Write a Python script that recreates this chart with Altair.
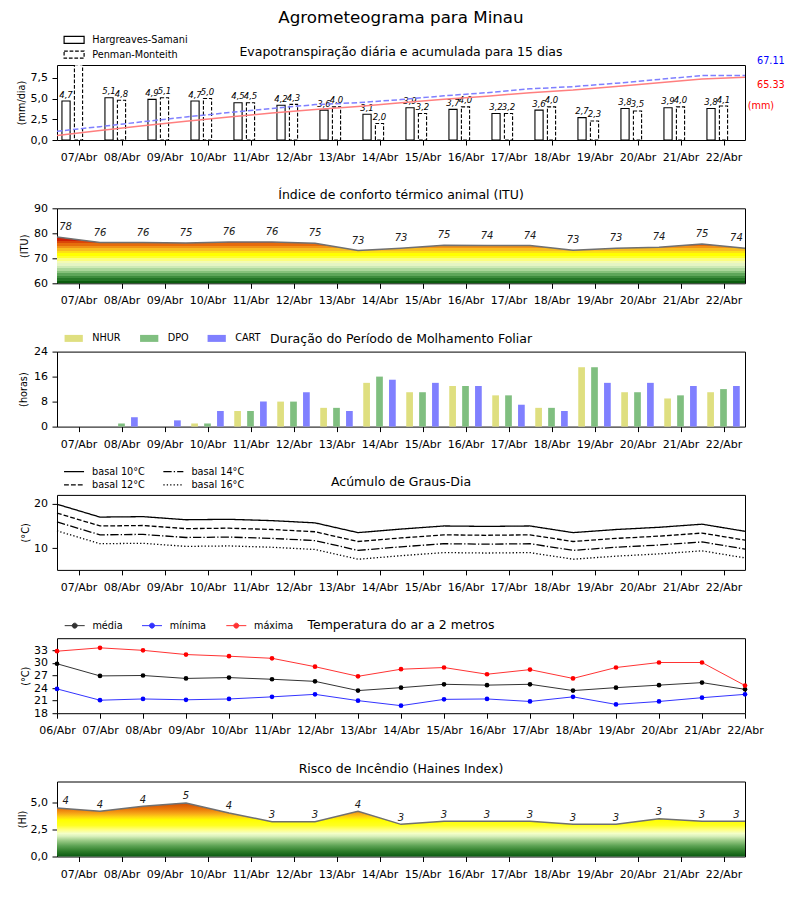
import json
import altair as alt
import pandas as pd

# ---------------- data ----------------
DAYS = ['07/Abr', '08/Abr', '09/Abr', '10/Abr', '11/Abr', '12/Abr', '13/Abr', '14/Abr',
        '15/Abr', '16/Abr', '17/Abr', '18/Abr', '19/Abr', '20/Abr', '21/Abr', '22/Abr']
DAYS_T = ['06/Abr', '07/Abr', '08/Abr', '09/Abr', '10/Abr', '11/Abr', '12/Abr', '13/Abr', '14/Abr',
          '15/Abr', '16/Abr', '17/Abr', '18/Abr', '19/Abr', '20/Abr', '21/Abr', '22/Abr']

TITLE = 'Agrometeograma para Minau'
PANEL_TITLES = ['Evapotranspiração diária e acumulada para 15 dias',
                'Índice de conforto térmico animal (ITU)',
                'Duração do Período de Molhamento Foliar',
                'Acúmulo de Graus-Dia',
                'Temperatura do ar a 2 metros',
                'Risco de Incêndio (Haines Index)']

ET_NAMES = ['Hargreaves-Samani', 'Penman-Monteith']
ET_HS = [4.7, 5.1, 4.9, 4.7, 4.5, 4.2, 3.6, 3.1, 3.9, 3.7, 3.2, 3.6, 2.7, 3.8, 3.9, 3.8]
ET_PM = [9.1, 4.8, 5.1, 5.0, 4.5, 4.3, 4.0, 2.0, 3.2, 4.0, 3.2, 4.0, 2.3, 3.5, 4.0, 4.1]
ET_CUM_HS = [4.7, 9.8, 14.7, 19.4, 23.9, 28.1, 31.7, 34.8, 38.7, 42.4, 45.6, 49.2, 51.9, 55.7, 59.6, 63.4, 65.33]
ET_CUM_PM = [9.1, 13.9, 19.0, 24.0, 28.5, 32.8, 36.8, 38.8, 42.0, 46.0, 49.2, 53.2, 55.5, 59.0, 63.0, 67.1, 67.11]
ET_TOTAL_HS = '65.33'
ET_TOTAL_PM = '67.11'

ITU = [78.5, 76.3, 76.3, 76.1, 76.5, 76.5, 76.0, 73.1, 74.0, 75.2, 75.1, 75.1, 73.2, 74.0, 74.4, 75.7, 74.0]
ITU_LABELS = [78, 76, 76, 75, 76, 76, 75, 73, 73, 75, 74, 74, 73, 73, 74, 75, 74]

WET_NAMES = ['NHUR', 'DPO', 'CART']
NHUR = [0, 0, 0, 1, 5, 8, 6, 14, 11, 13, 10, 6, 19, 11, 9, 11]
DPO = [0, 1, 0, 1, 5, 8, 6, 16, 11, 13, 10, 6, 19, 11, 10, 12]
CART = [0, 3, 2, 5, 8, 11, 5, 15, 14, 13, 7, 5, 14, 14, 13, 13]

GD_NAMES = ['basal 10°C', 'basal 14°C', 'basal 12°C', 'basal 16°C']
GD10 = [19.9, 17.0, 17.1, 16.4, 16.5, 16.2, 15.7, 13.5, 14.3, 15.0, 14.9, 15.0, 13.5, 14.2, 14.7, 15.4, 13.8]
GD12 = [17.9, 15.0, 15.1, 14.4, 14.5, 14.2, 13.7, 11.5, 12.3, 13.0, 12.9, 13.0, 11.5, 12.2, 12.7, 13.4, 11.8]
GD14 = [15.9, 13.0, 13.1, 12.4, 12.5, 12.2, 11.7, 9.5, 10.3, 11.0, 10.9, 11.0, 9.5, 10.2, 10.7, 11.4, 9.8]
GD16 = [13.9, 11.0, 11.1, 10.4, 10.5, 10.2, 9.7, 7.5, 8.3, 9.0, 8.9, 9.0, 7.5, 8.2, 8.7, 9.4, 7.8]

T_NAMES = ['média', 'mínima', 'máxima']
T_MED = [29.8, 26.9, 27.0, 26.3, 26.5, 26.1, 25.6, 23.4, 24.1, 24.9, 24.7, 24.9, 23.4, 24.1, 24.7, 25.3, 23.7]
T_MIN = [23.8, 21.1, 21.4, 21.2, 21.4, 21.9, 22.5, 21.0, 19.8, 21.3, 21.4, 20.8, 21.9, 20.1, 20.8, 21.7, 22.5]
T_MAX = [32.8, 33.6, 33.0, 32.0, 31.6, 31.1, 29.1, 26.8, 28.5, 28.9, 27.3, 28.4, 26.3, 28.9, 30.1, 30.1, 24.6]

HAINES = [4.53, 4.22, 4.69, 5.0, 4.06, 3.25, 3.25, 4.22, 3.0, 3.28, 3.28, 3.28, 3.0, 3.0, 3.53, 3.28, 3.28]
HAINES_LABELS = [4, 4, 4, 5, 4, 3, 3, 4, 3, 3, 3, 3, 3, 3, 3, 3, 3]

# ---------------- styles ----------------
FONT = 'DejaVu Sans'
W, H = 688, 75
XS = alt.Scale(domain=[0, 16], nice=False, zero=False)
COMMA = "replace(format(datum.value, '.1f'), '.', ',')"
X_AXIS_DAYS = alt.Axis(values=[i + 0.5 for i in range(len(DAYS))],
                       labelExpr=json.dumps(DAYS) + '[floor(datum.value)]', title=None)
X_AXIS_T = alt.Axis(values=list(range(len(DAYS_T))),
                    labelExpr=json.dumps(DAYS_T) + '[round(datum.value)]', title=None)

ITU_BANDS = [(60, '#0b5c0d'), (61, '#247526'), (62, '#3d8c3c'), (63, '#5ea659'), (64, '#86c17a'),
             (65, '#acd79b'), (66, '#cdeab5'), (67, '#e5f5c3'), (68, '#f3fbb4'), (69, '#fbfd7c'),
             (70, '#ffff2a'), (71, '#ffff00'), (72, '#fde015'), (73, '#f8bd20'), (74, '#f09318'),
             (75, '#e66c0c'), (76, '#da4608'), (77, '#cc1f05'), (78, '#c20000')]
HAINES_CMAP = [(0.0, '#0b5a12'), (0.5, '#2e7d2a'), (1.0, '#5da354'), (1.5, '#9dcc88'),
               (1.9, '#daf2bd'), (2.15, '#f3ffc8'), (2.5, '#ffff80'), (2.9, '#ffff22'),
               (3.4, '#ffff00'), (3.7, '#ffd412'), (4.0, '#f7a818'), (4.4, '#ea7a0a'), (5.0, '#d04a05'),
               (7.0, '#b00000')]

RECT20 = 'M-1.818,-0.636H1.818V0.636H-1.818Z'
RECT18 = 'M-1.66,-0.636H1.66V0.636H-1.66Z'
LINE20 = 'M-1.818,0H1.818'
LINEDOT = 'M-1.818,0H1.818M-0.45,0A0.45,0.45,0,1,1,0.45,0A0.45,0.45,0,1,1,-0.45,0Z'


def hex2rgb(h):
    return [int(h[i:i + 2], 16) for i in (1, 3, 5)]


def rgb2hex(c):
    return '#%02x%02x%02x' % tuple(int(round(v)) for v in c)


def band_gradient(bands, lo, hi):
    edges = [b[0] for b in bands[1:]] + [1e9]
    stops = []
    for (e0, col), e1 in zip(bands, edges):
        a, b = max(e0, lo), min(e1, hi)
        if b <= a:
            continue
        stops.append(alt.GradientStop(color=col, offset=(a - lo) / (hi - lo)))
        stops.append(alt.GradientStop(color=col, offset=(b - lo) / (hi - lo)))
    return alt.Gradient(gradient='linear', stops=stops, x1=1, x2=1, y1=1, y2=0)


def smooth_gradient(cmap, lo, hi):
    pts = [(v, c) for v, c in cmap if lo <= v <= hi]
    for (v0, c0), (v1, c1) in zip(cmap, cmap[1:]):
        if v0 < hi < v1:
            t = (hi - v0) / (v1 - v0)
            a, b = hex2rgb(c0), hex2rgb(c1)
            pts.append((hi, rgb2hex([a[k] + (b[k] - a[k]) * t for k in range(3)])))
            break
    stops = [alt.GradientStop(color=c, offset=(v - lo) / (hi - lo)) for v, c in pts]
    return alt.Gradient(gradient='linear', stops=stops, x1=1, x2=1, y1=1, y2=0)


def y_axis(title, values, title_x, comma=False):
    kw = dict(title=title, values=values, titleX=title_x, titleY=H / 2, titleAngle=270,
              titleAlign='center', titleBaseline='middle')
    if comma:
        kw['labelExpr'] = COMMA
    return alt.Axis(**kw)


def txt(text, x, y, size=12.5, color='black', align='center'):
    return alt.Chart(pd.DataFrame({'t': [text]})).mark_text(
        font=FONT, fontSize=size, color=color, align=align, baseline='middle'
    ).encode(text='t:N', x=alt.value(x), y=alt.value(y))


def legend(**kw):
    base = dict(title=None, orient='none', labelFont=FONT, labelFontSize=9.7, labelColor='black',
                padding=0, symbolSize=121)
    base.update(kw)
    return alt.Legend(**base)


# ---------------- panel 1: evapotranspiration ----------------
ET_YMAX = 9.05
YS_ET = alt.Scale(domain=[0, ET_YMAX], nice=False, zero=False)
YS_CUM = alt.Scale(domain=[0, 78], nice=False, zero=False)
ET_DASHES = [[1, 0], [3.7, 1.8]]
ET_DASH = alt.Scale(domain=ET_NAMES, range=ET_DASHES)
ax_et = y_axis('(mm/dia)', [0, 2.5, 5, 7.5], -36, comma=True)
rows = []
for i, (h, p) in enumerate(zip(ET_HS, ET_PM)):
    for name, v, off in ((ET_NAMES[0], h, -0.29), (ET_NAMES[1], p, 0.0)):
        c = i + 0.5 + off
        rows.append({'metodo': name, 'v': v, 'zero': 0, 'hidden': -1.0, 'xc': c,
                     'x0': c - 0.095, 'x1': c + 0.095, 'lbl': f'{v:.1f}'.replace('.', ',')})
df_et = pd.DataFrame(rows)


def et_bar_layer(name, dash):
    return alt.Chart(df_et).transform_filter(alt.datum.metodo == name).mark_bar(
        fill='white', stroke='black', strokeWidth=1.1, strokeDash=dash, clip=True).encode(
        x=alt.X('x0:Q', scale=XS, axis=X_AXIS_DAYS), x2='x1:Q',
        y=alt.Y('v:Q', scale=YS_ET, axis=ax_et, stack=None), y2='zero:Q')


# invisible (clipped, below the axis) line layer that only carries the method legend
et_leg = alt.Chart(df_et).mark_line(color='black', strokeWidth=1.2, clip=True).encode(
    x=alt.X('xc:Q', scale=XS, axis=X_AXIS_DAYS), y=alt.Y('hidden:Q', scale=YS_ET, axis=ax_et),
    strokeDash=alt.StrokeDash('metodo:N', scale=ET_DASH,
                              legend=legend(legendX=10.6, legendY=-31.7, direction='vertical',
                                            symbolType=RECT20, symbolStrokeColor='black',
                                            symbolStrokeWidth=1.2, labelOffset=11.6, rowPadding=1.8)))
et_lbl = alt.Chart(df_et).transform_filter(alt.datum.v <= ET_YMAX).mark_text(
    font=FONT, fontSize=8.5, fontStyle='italic', baseline='bottom', dy=-1.5, color='black').encode(
    x=alt.X('xc:Q', scale=XS, axis=X_AXIS_DAYS), y=alt.Y('v:Q', scale=YS_ET, axis=ax_et), text='lbl:N')

df_cum = pd.DataFrame({'pos': list(range(len(ET_CUM_HS))), 'hs': ET_CUM_HS, 'pm': ET_CUM_PM})
cum_hs = alt.Chart(df_cum).mark_line(color='#ff7f7f', strokeWidth=1.5).encode(
    x=alt.X('pos:Q', scale=XS, axis=X_AXIS_DAYS), y=alt.Y('hs:Q', scale=YS_CUM, axis=None))
cum_pm = alt.Chart(df_cum).mark_line(color='#7f7fff', strokeWidth=1.5, strokeDash=[5.5, 2.5]).encode(
    x=alt.X('pos:Q', scale=XS, axis=X_AXIS_DAYS), y=alt.Y('pm:Q', scale=YS_CUM, axis=None))

p1 = alt.layer(
    alt.layer(et_bar_layer(ET_NAMES[0], ET_DASHES[0]), et_bar_layer(ET_NAMES[1], ET_DASHES[1]),
              et_leg, et_lbl),
    alt.layer(cum_hs, cum_pm),
    txt(TITLE, W / 2, -47, 16.7),
    txt(PANEL_TITLES[0], W / 2, -13),
    txt(ET_TOTAL_PM, 700, -4, 9.7, 'blue', 'left'),
    txt(ET_TOTAL_HS, 700, 20.3, 9.7, 'red', 'left'),
    txt('(mm)', 690.7, 41.3, 9.7, 'red', 'left'),
).resolve_scale(y='independent').properties(width=W, height=H)


# ---------------- gradient-filled index panels ----------------
def index_panel(values, labels, lo, domain, yvals, title, title_x, grad, dy, comma):
    df = pd.DataFrame({'pos': list(range(len(values))), 'v': values, 'base': lo,
                       'lbl': [str(x) for x in labels]})
    df['lx'] = df['pos'].clip(0.2, len(values) - 1.2)
    ys = alt.Scale(domain=domain, nice=False, zero=False)
    ax = y_axis(title, yvals, title_x, comma=comma)
    area = alt.Chart(df).mark_area(color=grad).encode(
        x=alt.X('pos:Q', scale=XS, axis=X_AXIS_DAYS),
        y=alt.Y('v:Q', scale=ys, axis=ax), y2='base:Q')
    line = alt.Chart(df).mark_line(color='#707070', strokeWidth=1.5).encode(
        x=alt.X('pos:Q', scale=XS, axis=X_AXIS_DAYS), y=alt.Y('v:Q', scale=ys, axis=ax))
    lbl = alt.Chart(df).mark_text(font=FONT, fontSize=10, fontStyle='italic', color='#1a1a1a',
                                  baseline='middle', dy=dy).encode(
        x=alt.X('lx:Q', scale=XS, axis=X_AXIS_DAYS), y=alt.Y('v:Q', scale=ys, axis=ax), text='lbl:N')
    return area, line, lbl


itu_area, itu_line, itu_lbl = index_panel(ITU, ITU_LABELS, 60, [60, 90], [60, 70, 80, 90], '(ITU)', -33,
                                          band_gradient(ITU_BANDS, 60, max(ITU)), -10, False)
p2 = alt.layer(itu_area, itu_line, itu_lbl, txt(PANEL_TITLES[1], W / 2, -13)).properties(width=W, height=H)

# ---------------- panel 3: leaf wetness ----------------
rows = []
for i in range(len(DAYS)):
    for name, arr, off in ((WET_NAMES[0], NHUR, -0.3), (WET_NAMES[1], DPO, 0.0), (WET_NAMES[2], CART, 0.3)):
        c = i + 0.5 + off
        rows.append({'serie': name, 'v': arr[i], 'zero': 0, 'x0': c - 0.078, 'x1': c + 0.078})
df_wet = pd.DataFrame(rows)
wet = alt.Chart(df_wet).mark_bar().encode(
    x=alt.X('x0:Q', scale=XS, axis=X_AXIS_DAYS), x2='x1:Q',
    y=alt.Y('v:Q', scale=alt.Scale(domain=[0, 24], nice=False), stack=None,
            axis=y_axis('(horas)', [0, 8, 16, 24], -33.5)), y2='zero:Q',
    color=alt.Color('serie:N', scale=alt.Scale(domain=WET_NAMES, range=['#dfdf80', '#80bf80', '#8080ff']),
                    legend=legend(legendX=11.2, legendY=-19.1, direction='horizontal', symbolType=RECT18,
                                  symbolStrokeWidth=0, labelOffset=13, columnPadding=18.5)))
p3 = alt.layer(wet, txt(PANEL_TITLES[2], W / 2, -13)).properties(width=W, height=H)

# ---------------- panel 4: degree days ----------------
gd_series = {GD_NAMES[0]: GD10, GD_NAMES[2]: GD12, GD_NAMES[1]: GD14, GD_NAMES[3]: GD16}
df_gd = pd.DataFrame([{'pos': i, 'serie': k, 'v': v} for k, arr in gd_series.items() for i, v in enumerate(arr)])
gd = alt.Chart(df_gd).mark_line(color='black', strokeWidth=1.3).encode(
    x=alt.X('pos:Q', scale=XS, axis=X_AXIS_DAYS),
    y=alt.Y('v:Q', scale=alt.Scale(domain=[5.1, 22.0], nice=False, zero=False),
            axis=y_axis('(°C)', [10, 20], -32)),
    strokeDash=alt.StrokeDash('serie:N', scale=alt.Scale(
        domain=GD_NAMES, range=[[1, 0], [8.3, 2.1, 1.3, 2.1], [4.8, 2.1], [1.3, 2.1]]),
        legend=legend(legendX=10.55, legendY=-30.15, columns=2, direction='horizontal', symbolType=LINE20,
                      symbolStrokeColor='black', symbolStrokeWidth=1.3, labelOffset=11.55,
                      rowPadding=1.7, columnPadding=14.3)))
p4 = alt.layer(gd, txt(PANEL_TITLES[3], W / 2, -13)).properties(width=W, height=H)

# ---------------- panel 5: temperature ----------------
t_series = {T_NAMES[0]: T_MED, T_NAMES[1]: T_MIN, T_NAMES[2]: T_MAX}
df_t = pd.DataFrame([{'pos': i, 'serie': k, 'v': v} for k, arr in t_series.items() for i, v in enumerate(arr)])
t_scale = alt.Scale(domain=T_NAMES, range=['#000000', '#0000ff', '#ff0000'])
t_leg = legend(legendX=11.7, legendY=-18.7, direction='horizontal', symbolType=LINEDOT, symbolStrokeWidth=1,
               labelOffset=11.7, columnPadding=17.3)
ys_t = alt.Scale(domain=[18, 35.9], nice=False, zero=False)
ax_t = y_axis('(°C)', [18, 21, 24, 27, 30, 33], -32)
t_line = alt.Chart(df_t).mark_line(strokeWidth=1, opacity=0.8).encode(
    x=alt.X('pos:Q', scale=XS, axis=X_AXIS_T), y=alt.Y('v:Q', scale=ys_t, axis=ax_t),
    stroke=alt.Stroke('serie:N', scale=t_scale, legend=t_leg))
t_pts = alt.Chart(df_t).mark_point(filled=True, size=22, opacity=1).encode(
    x=alt.X('pos:Q', scale=XS, axis=X_AXIS_T), y=alt.Y('v:Q', scale=ys_t, axis=ax_t),
    fill=alt.Fill('serie:N', scale=t_scale, legend=t_leg))
p5 = alt.layer(t_line, t_pts, txt(PANEL_TITLES[4], W / 2, -13)).properties(width=W, height=H)

# ---------------- panel 6: Haines ----------------
hi_area, hi_line, hi_lbl = index_panel(HAINES, HAINES_LABELS, 0, [0, 7.0], [0, 2.5, 5.0], '(HI)', -35,
                                       smooth_gradient(HAINES_CMAP, 0, max(HAINES)), -6.7, True)
p6 = alt.layer(hi_area, hi_line, hi_lbl, txt(PANEL_TITLES[5], W / 2, -13)).properties(width=W, height=H)

chart = alt.vconcat(p1, p2, p3, p4, p5, p6, spacing=68.3, bounds='flush').resolve_scale(
    x='independent', y='independent', color='independent', strokeDash='independent',
    stroke='independent', fill='independent'
).configure_view(stroke='black', strokeWidth=1).configure_axis(
    labelFont=FONT, labelFontSize=11, labelColor='black', tickColor='black', tickSize=5, tickWidth=1,
    domain=False, grid=False, titleFont=FONT, titleFontSize=9.7, titleFontWeight='normal',
    titleColor='black', labelFlush=False, labelOverlap=False
).configure_axisX(labelPadding=6.5, labelAngle=0).configure_axisY(labelPadding=4.5).properties(
    padding={'left': 7, 'top': 1, 'right': 5, 'bottom': 5})

chart.save('out.html', embed_options={'renderer': 'svg', 'actions': False})
